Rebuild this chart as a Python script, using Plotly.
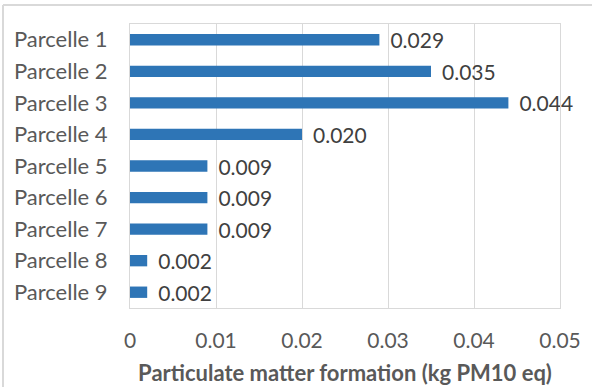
import plotly.graph_objects as go

# Particulate matter formation per plot (kg PM10 eq)
parcelles = ["Parcelle 1", "Parcelle 2", "Parcelle 3", "Parcelle 4", "Parcelle 5",
             "Parcelle 6", "Parcelle 7", "Parcelle 8", "Parcelle 9"]
pm10 = [0.029, 0.035, 0.044, 0.020, 0.009, 0.009, 0.009, 0.002, 0.002]
x_ticks = [0, 0.01, 0.02, 0.03, 0.04, 0.05]
x_tick_labels = ["0", "0.01", "0.02", "0.03", "0.04", "0.05"]

BAR = "#2E75B6"
GRID = "#D9D9D9"
FONT = "Lato, Open Sans, sans-serif"

fig = go.Figure(go.Bar(
    x=pm10,
    y=parcelles,
    orientation="h",
    width=0.36,
    marker=dict(color=BAR, line=dict(width=0)),
    text=[" \u2009" + f"{v:.3f}" for v in pm10],
    textposition="outside",
    constraintext="none",
    textfont=dict(family=FONT, size=21, color="#404040"),
    cliponaxis=False,
))

W, H = 592, 387
L, R, T, B = 130, 32, 24, 79
pw, ph = W - L - R, H - T - B

fig.update_layout(
    width=W, height=H,
    margin=dict(l=L, r=R, t=T, b=B, autoexpand=False),
    paper_bgcolor="white",
    plot_bgcolor="white",
    showlegend=False,
    uniformtext=dict(mode=False),
    font=dict(family=FONT, color="#595959"),
    xaxis=dict(
        range=[0, 0.05],
        tickvals=x_ticks,
        ticktext=x_tick_labels,
        tickfont=dict(size=21, color="#595959"),
        showgrid=True, gridcolor=GRID, gridwidth=1,
        zeroline=False,
        showline=True, linecolor=GRID, linewidth=1, mirror=True,
        ticks="", ticklabelstandoff=14,
        title=dict(text="<b>Particulate matter formation (kg PM10 eq)</b>",
                   font=dict(size=22, color="#595959"), standoff=14),
        automargin=False,
        fixedrange=True,
    ),
    yaxis=dict(
        categoryorder="array",
        categoryarray=parcelles[::-1],
        tickfont=dict(size=22, color="#595959"),
        showgrid=False,
        showline=True, linecolor=GRID, linewidth=1, mirror=True,
        ticks="", ticklabelstandoff=17,
        automargin=False,
        fixedrange=True,
    ),
    # outer chart frame: only its left and top edges fall inside the canvas
    shapes=[
        dict(type="line", xref="paper", yref="paper",
             x0=(3 - L) / pw, x1=(3 - L) / pw,
             y0=-(H - T - ph) / ph - 0.1, y1=1 + (T - 5) / ph,
             line=dict(color=GRID, width=2), layer="below"),
        dict(type="line", xref="paper", yref="paper",
             x0=(3 - L) / pw, x1=(W - L) / pw + 0.1,
             y0=1 + (T - 5) / ph, y1=1 + (T - 5) / ph,
             line=dict(color=GRID, width=2), layer="below"),
    ],
)

fig.write_html("out.html")
